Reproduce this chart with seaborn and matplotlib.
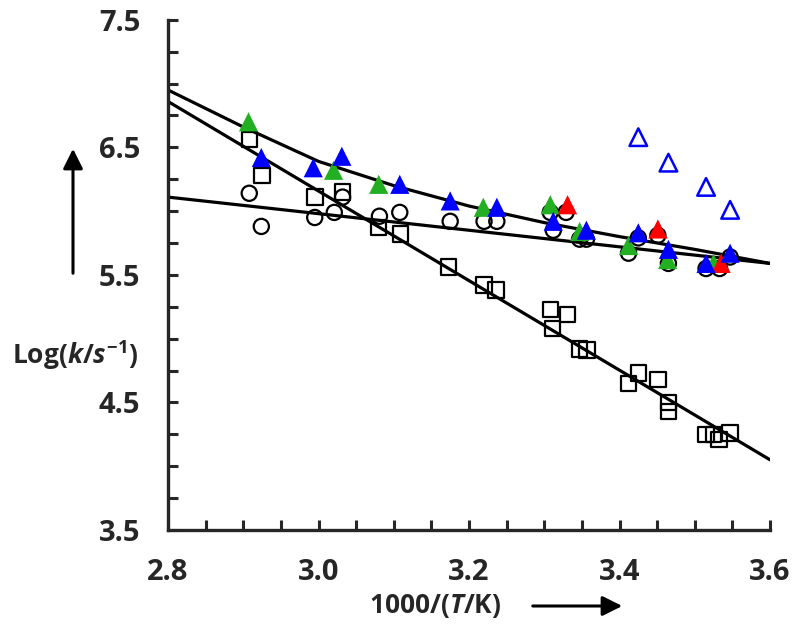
import numpy as np
import pandas as pd
import matplotlib
matplotlib.use('Agg')
import matplotlib.pyplot as plt
import seaborn as sns

# Values
sq_x = [2.908, 2.925, 2.995, 3.032, 3.080, 3.109, 3.173, 3.220, 3.236, 3.308, 3.331, 3.311,
        3.347, 3.357, 3.412, 3.425, 3.451, 3.465, 3.465, 3.515, 3.525, 3.532, 3.547]
sq_y = [6.56, 6.28, 6.11, 6.15, 5.87, 5.82, 5.56, 5.42, 5.38, 5.23, 5.19, 5.08,
        4.92, 4.91, 4.65, 4.73, 4.68, 4.50, 4.43, 4.25, 4.25, 4.21, 4.26]

circ_x = [2.908, 2.924, 2.995, 3.021, 3.032, 3.081, 3.108, 3.175, 3.220, 3.237, 3.308,
          3.329, 3.312, 3.347, 3.356, 3.412, 3.425, 3.451, 3.465, 3.515, 3.533, 3.547]
circ_y = [6.14, 5.88, 5.95, 5.99, 6.11, 5.96, 5.99, 5.92, 5.92, 5.92, 5.99,
          5.99, 5.85, 5.78, 5.78, 5.67, 5.79, 5.81, 5.59, 5.55, 5.55, 5.64]

green_x = [2.907, 3.020, 3.080, 3.219, 3.308, 3.347, 3.412, 3.464, 3.525]
green_y = [6.70, 6.32, 6.21, 6.03, 6.05, 5.84, 5.73, 5.62, 5.59]

red_x = [3.331, 3.451, 3.535]
red_y = [6.05, 5.86, 5.59]

blue_x = [2.924, 2.993, 3.031, 3.108, 3.175, 3.237, 3.312, 3.356, 3.425, 3.465, 3.515, 3.547]
blue_y = [6.42, 6.34, 6.43, 6.21, 6.08, 6.03, 5.92, 5.85, 5.83, 5.70, 5.59, 5.67]

open_x = [3.425, 3.465, 3.515, 3.547]
open_y = [6.58, 6.38, 6.19, 6.01]

# fitted lines
fit_sq_x = [2.8, 3.6]
fit_sq_y = [6.86, 4.05]
fit_circ_x = [2.8, 3.6]
fit_circ_y = [6.11, 5.59]
curve_x = [2.8, 2.9, 3.0, 3.1, 3.2, 3.3, 3.4, 3.5, 3.6]
curve_y = [6.95, 6.66, 6.39, 6.20, 6.04, 5.91, 5.80, 5.70, 5.59]

sns.set_style('ticks')
plt.rcParams['font.family'] = ['Open Sans', 'DejaVu Sans']
plt.rcParams['mathtext.fontset'] = 'custom'
plt.rcParams['mathtext.rm'] = 'Open Sans:bold'
plt.rcParams['mathtext.it'] = 'Open Sans:bold:italic'
plt.rcParams['mathtext.bf'] = 'Open Sans:bold'

fig = plt.figure(figsize=(8, 6.4), dpi=100)
ax = fig.add_axes([0.21, 0.172, 0.7525, 0.797])

# lines
for lx, ly in [(fit_sq_x, fit_sq_y), (fit_circ_x, fit_circ_y), (curve_x, curve_y)]:
    sns.lineplot(x=lx, y=ly, ax=ax, color='black', lw=2.3, sort=False, zorder=1)

# markers
sns.scatterplot(x=sq_x, y=sq_y, ax=ax, marker='s', s=125, facecolor='none',
                edgecolor='black', linewidth=1.6, zorder=2)
sns.scatterplot(x=circ_x, y=circ_y, ax=ax, marker='o', s=120, facecolor='none',
                edgecolor='black', linewidth=1.6, zorder=2)
sns.scatterplot(x=green_x, y=green_y, ax=ax, marker='^', s=190, color='#22b022',
                edgecolor='none', zorder=3)
sns.scatterplot(x=red_x, y=red_y, ax=ax, marker='^', s=190, color='#ff0000',
                edgecolor='none', zorder=3)
sns.scatterplot(x=blue_x, y=blue_y, ax=ax, marker='^', s=190, color='#0000ff',
                edgecolor='none', zorder=4)
sns.scatterplot(x=open_x, y=open_y, ax=ax, marker='^', s=160, facecolor='none',
                edgecolor='#0000ff', linewidth=1.8, zorder=4)

ax.set_xlim(2.8, 3.6)
ax.set_ylim(3.5, 7.5)
ax.set_xticks(np.arange(2.8, 3.61, 0.2))
ax.set_xticks(np.arange(2.8, 3.61, 0.05), minor=True)
ax.set_yticks(np.arange(3.5, 7.51, 1.0))
ax.set_yticks(np.arange(3.5, 7.51, 0.25), minor=True)
ax.xaxis.set_major_formatter(plt.FormatStrFormatter('%.1f'))
ax.yaxis.set_major_formatter(plt.FormatStrFormatter('%.1f'))
ax.tick_params(which='both', direction='in', length=7, width=2.2)
ax.tick_params(which='major', labelsize=21, pad=20)
for lab in ax.get_xticklabels() + ax.get_yticklabels():
    lab.set_fontweight('bold')

sns.despine(ax=ax)
for sp in ['left', 'bottom']:
    ax.spines[sp].set_linewidth(2.4)

# axis titles with arrows
fig.text(75 / 800, 1 - 355 / 640, r'Log($\it{k}$/$\it{s}^{-1}$)', fontsize=19,
         fontweight='bold', ha='center', va='center')
fig.text(435 / 800, 1 - 606 / 640, r'1000/($\it{T}$/K)', fontsize=19,
         fontweight='bold', ha='center', va='center')
ax.annotate('', xy=(73 / 800, 1 - 146 / 640), xytext=(73 / 800, 1 - 276 / 640),
            xycoords='figure fraction', textcoords='figure fraction',
            arrowprops=dict(arrowstyle='-|>', lw=2.2, color='black', mutation_scale=30))
ax.annotate('', xy=(625 / 800, 1 - 606 / 640), xytext=(530 / 800, 1 - 606 / 640),
            xycoords='figure fraction', textcoords='figure fraction',
            arrowprops=dict(arrowstyle='-|>', lw=2.2, color='black', mutation_scale=30))

fig.savefig('out.png', dpi=100)
